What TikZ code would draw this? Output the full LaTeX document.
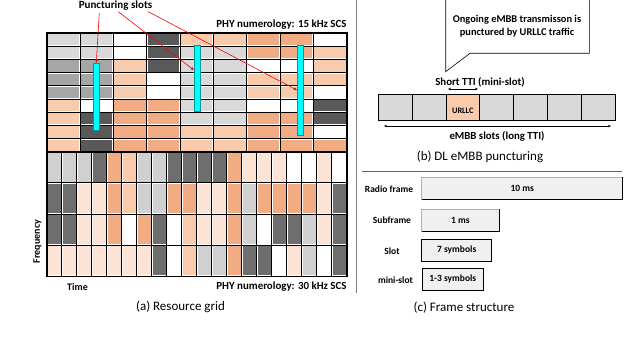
\documentclass[tikz,border=0pt]{standalone}
\usepackage{fontspec}
\setmainfont{Carlito}
\usetikzlibrary{arrows.meta}
\definecolor{LG}{HTML}{D9D9D9}
\definecolor{MG}{HTML}{A6A6A6}
\definecolor{DK}{HTML}{595959}
\definecolor{SL}{HTML}{F8CBAD}
\definecolor{SD}{HTML}{F2AC84}
\definecolor{VL}{HTML}{FBE3D6}
\definecolor{W}{HTML}{FFFFFF}
\definecolor{DB}{HTML}{6E6E6E}
\definecolor{LB}{HTML}{D0D0D0}
\definecolor{BoxFill}{HTML}{F0F0F0}
\definecolor{Cy}{HTML}{00FFFF}
\begin{document}
\begin{tikzpicture}[x=1pt,y=-1pt,
  lbl/.style={font=\fontsize{10.5}{12}\selectfont\bfseries, inner sep=0pt},
  captxt/.style={font=\fontsize{13}{15}\selectfont, inner sep=0pt},
  cyanbar/.style={fill=Cy, draw=Cy!60!black, line width=0.3pt, minimum width=6pt, inner sep=0pt, outer sep=0pt},
  redarrow/.style={red, line width=0.6pt, -{Latex[length=3.5pt,width=3pt]}},
  embbcell/.style={draw=black, line width=0.6pt, fill=LG, minimum width=33.81pt, minimum height=25.8pt, inner sep=0pt, outer sep=0pt},
  fbox/.style={fill=BoxFill, draw=gray!60, line width=0.5pt, inner sep=0pt, outer sep=0pt, anchor=west, font=\fontsize{9.5}{11}\selectfont\bfseries},
  dbl/.style={line width=0.5pt, {Stealth[length=3pt,width=2.5pt]}-{Stealth[length=3pt,width=2.5pt]}}
]
\useasboundingbox (0,0) rectangle (640,345);
\clip (0,0) rectangle (640,345);
\fill[white] (0,0) rectangle (640,345);

% ---------- top resource grid (15 kHz) ----------
\foreach \row [count=\r from 0] in {
  {LG,LG,W,DK,SL,SL,SD,SD,W},
  {LG,LG,W,DK,LG,LG,SD,SD,SL},
  {MG,MG,SL,DK,LG,LG,W,W,SL},
  {MG,MG,SL,W,LG,LG,SL,SL,SL},
  {MG,MG,SL,W,LG,LG,SL,SL,W},
  {SL,W,SD,SD,LG,LG,W,W,DK},
  {SL,DK,SD,SD,LG,LG,SD,SD,DK},
  {SL,DK,SD,SD,SL,SL,SD,SD,W},
  {SL,DK,SD,SD,SL,SL,SD,SD,SD}} {
  \foreach \c [count=\i from 0] in \row {
    \fill[\c] (46.7+33.333*\i+1.0, 33+13.2*\r+1.0) rectangle ++(31.333, 11.2);
  }
}
\foreach \i in {1,...,8} \draw[line width=0.9pt] (46.7+33.333*\i,33) -- (46.7+33.333*\i,151.8);
\foreach \j in {1,...,8} \draw[line width=0.9pt] (46.7,33+13.2*\j) -- (346.7,33+13.2*\j);

% ---------- bottom resource grid (30 kHz) ----------
\foreach \row [count=\r from 0] in {
  {LB,LB,LB,DB,SD,SL,LB,LB,DB,DB,DB,DB,SD,VL,VL,VL,W,W,VL,W},
  {DB,DB,VL,VL,SD,SL,LB,LB,SD,SD,VL,VL,SD,LB,SD,SD,SD,SD,VL,DB},
  {DB,DB,VL,VL,SD,W,SD,DB,W,SL,VL,VL,SD,LB,W,DB,DB,LB,VL,DB},
  {VL,VL,VL,VL,VL,VL,VL,DB,W,SL,LB,LB,SD,DB,DB,W,VL,LB,W,DB}} {
  \foreach \c [count=\i from 0] in \row {
    \fill[\c] (46.7+15*\i+1.0, 151.8+31.125*\r+1.0) rectangle ++(13, 29.125);
  }
}
\foreach \i in {1,...,19} \draw[line width=0.9pt] (46.7+15*\i,151.8) -- (46.7+15*\i,276.3);
\foreach \j in {1,...,3} \draw[line width=0.9pt] (46.7,151.8+31.125*\j) -- (346.7,151.8+31.125*\j);
\draw[line width=1.6pt] (46.7,151.8) -- (346.7,151.8);
\draw[line width=1.6pt] (46.7,33) rectangle (346.7,276.3);

% ---------- puncturing bars ----------
\node[cyanbar, minimum height=66.7pt] (b1) at (96.3,96.35) {};
\node[cyanbar, minimum height=66pt] (b2) at (197.2,78.3) {};
\node[cyanbar, minimum height=90pt] (b3) at (300.3,90.3) {};
\coordinate (t2) at (194.2,70.3);

\node[lbl, font=\fontsize{11}{12}\selectfont\bfseries] (punct) at (115.5,5.5) {Puncturing slots};
\coordinate (s1) at (99.3,13.3);
\coordinate (s2) at (118.3,11.7);
\coordinate (s3) at (148.3,11.7);
\draw[redarrow] (s1) -- (b1.north);
\draw[redarrow] (s2) -- (t2);
\draw[redarrow] (s3) -- (b3.west);

\node[lbl, font=\fontsize{10.9}{12}\selectfont\bfseries, anchor=east] (num15) at (346.7,25) {PHY numerology: 15 kHz SCS};
\node[lbl, font=\fontsize{10.9}{12}\selectfont\bfseries, anchor=east] (num30) at (346.7,286.7) {PHY numerology: 30 kHz SCS};
\node[lbl, font=\fontsize{10}{12}\selectfont\bfseries] (time) at (77.5,286.7) {Time};
\node[lbl, font=\fontsize{10}{12}\selectfont\bfseries, rotate=90] (freq) at (37.5,241.5) {Frequency};
\node[captxt] (capa) at (180.5,307) {(a) Resource grid};

% ---------- separator ----------
\draw[gray, line width=0.8pt] (356.7,0) -- (356.7,293);

% ---------- (b) DL eMBB puncturing ----------
\draw[line width=0.6pt, fill=white] (445.7,-5) -- (445.7,71.7) -- (470,53.3) -- (589.3,53.3) -- (589.3,-5);
\node[lbl, align=center, font=\fontsize{10.4}{13}\selectfont\bfseries] (callout) at (517,26.5) {Ongoing eMBB transmisson is\\punctured by URLLC traffic};

\foreach \i in {0,...,6} \node[embbcell] (e\i) at (378.3+33.81*\i+16.905,107.2) {};
\node[embbcell, fill=SL] (e2) at (378.3+33.81*2+16.905,107.2) {};
\node[font=\fontsize{8.3}{9}\selectfont\bfseries, inner sep=0pt] (urllc) at (462.8,110.5) {URLLC};

\node[lbl, font=\fontsize{10.8}{12}\selectfont\bfseries] (short) at (480,82) {Short TTI (mini-slot)};
\coordinate (sa) at (448,89);
\coordinate (sb) at (478,89);
\draw[dbl] (sa) -- (sb);

\coordinate (la) at (384,126);
\coordinate (lb) at (611,126);
\draw[dbl] (la) -- (lb);
\node[lbl, font=\fontsize{10.8}{12}\selectfont\bfseries] (embb) at (497,136) {eMBB slots (long TTI)};
\node[captxt] (capb) at (480,157) {(b) DL eMBB puncturing};

\draw[gray!80!black, line width=1pt] (361.7,171.7) -- (621.7,171.7);

% ---------- (c) Frame structure ----------
\node[fbox, minimum width=201pt, minimum height=22pt] (rf) at (421.7,188.3) {10 ms};
\node[fbox, minimum width=77.3pt, minimum height=21.7pt] (sf) at (421.7,220.2) {1 ms};
\node[fbox, minimum width=70pt, minimum height=22.7pt] (sl) at (421.7,250.3) {7 symbols};
\node[fbox, minimum width=61pt, minimum height=22pt] (ms) at (422.3,279.3) {1-3 symbols};
\foreach \n in {rf,sf,sl,ms} \draw[black, line width=0.8pt] (\n.north east) -- (\n.south east) -- (\n.south west);
\draw[black, line width=0.6pt] (sl.south west) -- (sl.north west) -- (sl.north east);
\draw[black, line width=0.6pt] (ms.south west) -- (ms.north west) -- (ms.north east);

\node[lbl, font=\fontsize{9.5}{11}\selectfont\bfseries] (lrf) at (389,189) {Radio frame};
\node[lbl, font=\fontsize{9.5}{11}\selectfont\bfseries] (lsf) at (392,220.5) {Subframe};
\node[lbl, font=\fontsize{9.5}{11}\selectfont\bfseries] (lsl) at (392,251) {Slot};
\node[lbl, font=\fontsize{9.5}{11}\selectfont\bfseries] (lms) at (395.5,280.5) {mini-slot};
\node[captxt] (capc) at (464,308) {(c) Frame structure};
\end{tikzpicture}
\end{document}
